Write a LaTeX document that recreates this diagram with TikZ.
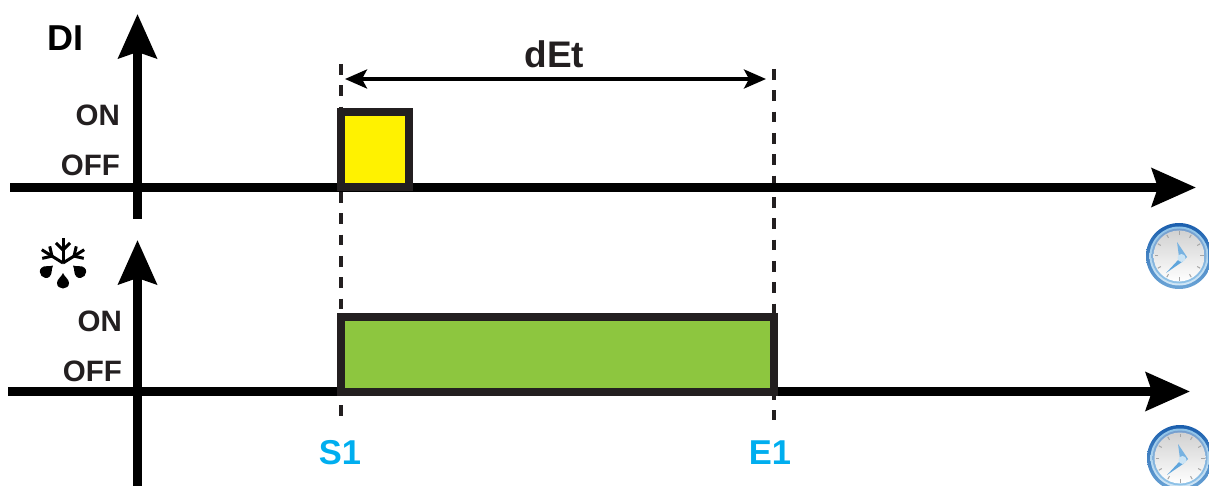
\documentclass[tikz,border=0pt]{standalone}
\usepackage{fontspec}
\setmainfont{Liberation Sans}
\usetikzlibrary{arrows.meta}
\definecolor{ink}{HTML}{231F20}
\definecolor{pulseyellow}{HTML}{FFF200}
\definecolor{pulsegreen}{HTML}{8DC63F}
\definecolor{eventblue}{HTML}{00AEEF}
\definecolor{rimdark}{HTML}{1B5FAE}
\definecolor{rimlight}{HTML}{8FC3E8}
\definecolor{handlight}{HTML}{A9D3EE}
\definecolor{handdark}{HTML}{5FA5DC}
\tikzset{
  axis/.style={line width=8.5pt,black,-{Stealth[length=44pt,width=38pt,inset=6pt]}},
  guide/.style={line width=4.5pt,ink,dash pattern=on 10.7pt off 10.63pt},
  span/.style={line width=3.5pt,black,{Stealth[length=22pt,width=19pt,inset=5pt]}-{Stealth[length=22pt,width=19pt,inset=5pt]},shorten >=8pt,shorten <=4pt},
  pulse/.style={line width=8pt,draw=ink,anchor=north west,inner sep=0pt,outer sep=0pt},
  level/.style={font=\bfseries\fontsize{29.5}{29.5}\selectfont,text=ink,anchor=east,inner sep=0pt},
  event/.style={font=\bfseries\fontsize{34.5}{34.5}\selectfont,text=eventblue},
  flake/.style={line width=3pt,black},
  clock/.pic={
    \shade[top color=rimdark,bottom color=rimlight!70!rimdark] (0,0) circle (33);
    \shade[top color=rimlight,bottom color=rimlight!40!white] (0,0) circle (29.5);
    \shade[top color=rimdark!60!white,bottom color=rimlight] (0,0) circle (27.5);
    \shade[top color=black!18,bottom color=white] (0,0) circle (25.5);
    \foreach \a in {0,30,...,330} \draw[black!35,line width=1pt] (\a:21) -- (\a:24.5);
    \fill[handdark!85!white] (-2,-14) -- (8,1) -- (3,6) -- (0,1) -- cycle;
    \fill[handdark] (-13,17) -- (0,3) -- (3,6) -- cycle;
    \fill[handlight!60!white] (2.5,2) circle (4);
  }
}
\begin{document}
\begin{tikzpicture}[x=1pt,y=-1pt]
\clip (0,0) rectangle (1209,486);
\coordinate (tx0) at (10,187.5);
\coordinate (tx1) at (1196,187.5);
\coordinate (ty0) at (137.5,219);
\coordinate (ty1) at (137.5,14);
\coordinate (bx0) at (8,391.5);
\coordinate (bx1) at (1190,391.5);
\coordinate (by0) at (137.5,486);
\coordinate (by1) at (137.5,240);
\coordinate (s0) at (341,64);
\coordinate (s1) at (341,419);
\coordinate (e0) at (774,69);
\coordinate (e1) at (774,420);
\coordinate (dl) at (341,79);
\coordinate (dr) at (774,79);

% guides and axes
\draw[guide] (s0) -- (s1);
\draw[guide] (e0) -- (e1);
\draw[axis] (tx0) -- (tx1);
\draw[axis] (ty0) -- (ty1);
\draw[axis] (bx0) -- (bx1);
\draw[axis] (by0) -- (by1);
\draw[span] (dl) -- (dr);

% pulses
\node[pulse,fill=pulseyellow,minimum width=67.5pt,minimum height=75.5pt] (dion) at (341,112) {};
\node[pulse,fill=pulsegreen,minimum width=433pt,minimum height=75pt] (defon) at (341,316.5) {};

% labels
\node[font=\bfseries\fontsize{36}{36}\selectfont,text=black] (di) at (65.5,38) {DI};
\node[font=\bfseries\fontsize{37}{37}\selectfont,text=ink] (det) at (554.5,54) {dEt};
\node[level] (ontop) at (120,115) {ON};
\node[level] (offtop) at (120,165) {OFF};
\node[level] (onbot) at (122,321) {ON};
\node[level] (offbot) at (122,371) {OFF};
\node[event] (s) at (340,453) {S1};
\node[event] (e) at (770,453) {E1};

% snowflake and drops
\begin{scope}[shift={(63,263)}]
\foreach \a in {-90,-32,-148} {
  \draw[flake] (0,0) -- (\a:25);
  \draw[flake] (\a:13) -- ++(\a+45:10);
  \draw[flake] (\a:13) -- ++(\a-45:10);
}
\foreach \x/\y/\a in {-10/2.5/222,10/2.5/318,0/10/270}
  \fill[black,shift={(\x,\y)},rotate=\a] (0,0) .. controls (4,-1.5) and (6,-6) .. (10,-6) .. controls (13.5,-6) and (15.5,-3) .. (15.5,0) .. controls (15.5,3) and (13.5,6) .. (10,6) .. controls (6,6) and (4,1.5) .. (0,0);
\end{scope}

% clocks
\pic at (1179,256) {clock};
\pic at (1180,458) {clock};
\end{tikzpicture}
\end{document}
